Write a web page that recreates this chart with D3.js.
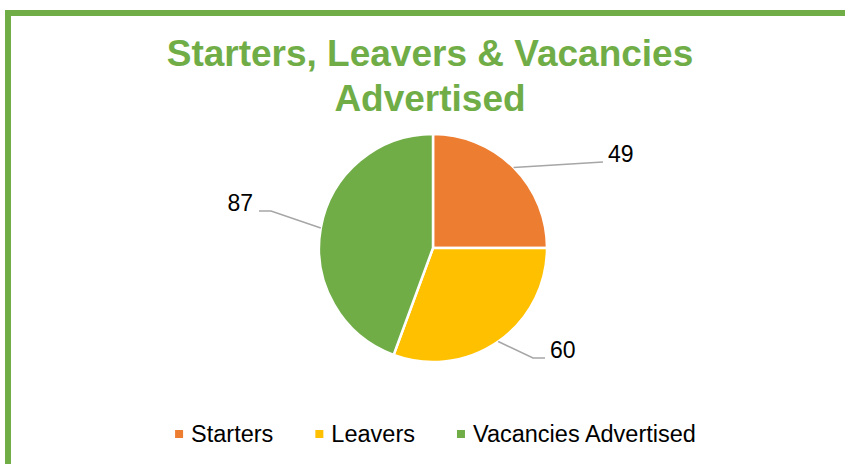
<!DOCTYPE html>
<html>
<head>
<meta charset="utf-8">
<script src="https://cdn.jsdelivr.net/npm/d3@7"></script>
<style>
  html, body { margin: 0; padding: 0; background: #fff; }
  svg { display: block; font-family: "Liberation Sans", Arial, sans-serif; }
</style>
</head>
<body>
<div id="chart"></div>
<script>
const categories = ["Starters", "Leavers", "Vacancies Advertised"];
const values = [49, 60, 87];
const colors = ["#ED7D31", "#FFC000", "#70AD47"];
const titleLines = ["Starters, Leavers & Vacancies", "Advertised"];

// leader line elbow / end, relative to pie centre
const labelLayout = [
  { elbow: [170, -86], end: [170, -86], anchor: "start" },
  { elbow: [100, 110], end: [112, 110], anchor: "start" },
  { elbow: [-162, -37], end: [-174, -37], anchor: "end" },
];

const width = 845;
const height = 464;
const cx = 433;
const cy = 248;
const radius = 114;
const green = "#70AD47";

const svg = d3.select("#chart").append("svg")
  .attr("width", width)
  .attr("height", height);

svg.append("rect")
  .attr("x", 8).attr("y", 13)
  .attr("width", width + 20).attr("height", height + 20)
  .attr("fill", "#fff")
  .attr("stroke", green)
  .attr("stroke-width", 6);

svg.append("g")
  .selectAll("text")
  .data(titleLines)
  .join("text")
  .attr("x", 430)
  .attr("y", (d, i) => 66 + i * 45)
  .attr("text-anchor", "middle")
  .attr("fill", green)
  .style("font-size", "37px")
  .style("font-weight", "bold")
  .text((d) => d);

const pie = d3.pie().sort(null).value((d) => d);
const arcs = pie(values);
const arc = d3.arc().innerRadius(0).outerRadius(radius);

const g = svg.append("g").attr("transform", `translate(${cx},${cy})`);

g.selectAll("path.slice")
  .data(arcs)
  .join("path")
  .attr("class", "slice")
  .attr("d", arc)
  .attr("fill", (d, i) => colors[i])
  .attr("stroke", "#fff")
  .attr("stroke-width", 2.5);

function edgePoint(d) {
  const a = (d.startAngle + d.endAngle) / 2;
  return [radius * Math.sin(a), -radius * Math.cos(a)];
}

g.selectAll("polyline.leader")
  .data(arcs)
  .join("polyline")
  .attr("class", "leader")
  .attr("fill", "none")
  .attr("stroke", "#A6A6A6")
  .attr("stroke-width", 1.5)
  .attr("points", (d, i) => [edgePoint(d), labelLayout[i].elbow, labelLayout[i].end].map((p) => p.join(",")).join(" "));

g.selectAll("text.value")
  .data(arcs)
  .join("text")
  .attr("class", "value")
  .attr("x", (d, i) => labelLayout[i].end[0] + (labelLayout[i].anchor === "start" ? 5 : -6))
  .attr("y", (d, i) => labelLayout[i].end[1])
  .attr("text-anchor", (d, i) => labelLayout[i].anchor)
  .attr("fill", "#000")
  .style("font-size", "23px")
  .text((d) => d.data);

// legend
const legend = svg.append("g").style("font-size", "23.5px");
const items = legend.selectAll("g")
  .data(categories)
  .join("g");
items.append("rect")
  .attr("y", -12)
  .attr("width", 8).attr("height", 8)
  .attr("fill", (d, i) => colors[i]);
items.append("text")
  .attr("x", 16)
  .attr("fill", "#000")
  .text((d) => d);

let offset = 0;
const gap = 42;
items.each(function () {
  const w = 16 + this.querySelector("text").getComputedTextLength();
  d3.select(this).attr("data-x", offset);
  offset += w + gap;
});
const total = offset - gap;
const startX = 435.5 - total / 2;
items.attr("transform", function () {
  return `translate(${startX + +this.getAttribute("data-x")},442)`;
});
</script>
</body>
</html>
